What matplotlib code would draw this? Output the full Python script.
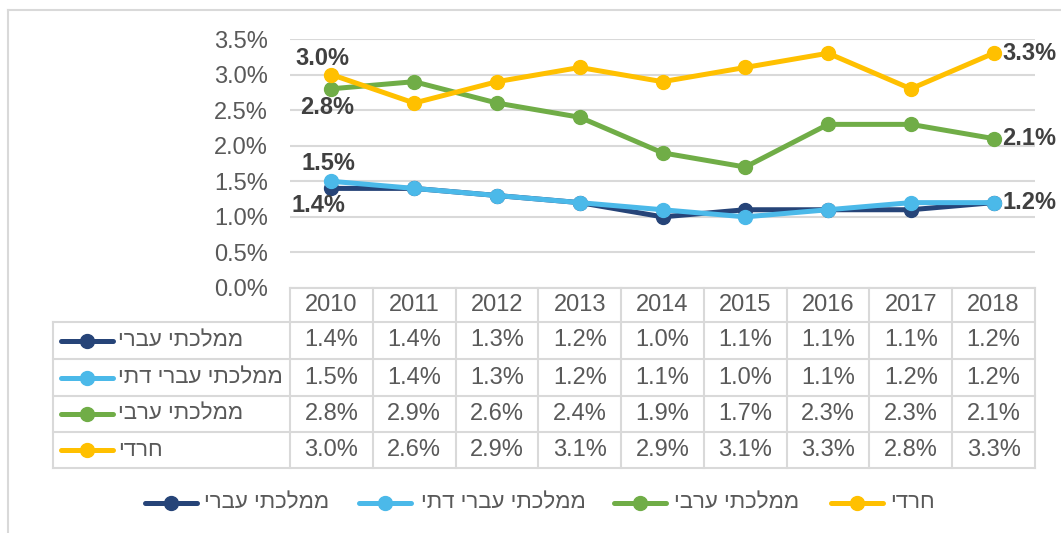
import matplotlib
matplotlib.use("Agg")
import matplotlib.pyplot as plt
from matplotlib.lines import Line2D

plt.rcParams['font.family'] = ['Liberation Sans', 'DejaVu Sans']

years = ["2010", "2011", "2012", "2013", "2014", "2015", "2016", "2017", "2018"]
series_names = ["ממלכתי עברי", "ממלכתי עברי דתי", "ממלכתי ערבי", "חרדי"]
mamlachti_ivri = [1.4, 1.4, 1.3, 1.2, 1.0, 1.1, 1.1, 1.1, 1.2]
mamlachti_dati = [1.5, 1.4, 1.3, 1.2, 1.1, 1.0, 1.1, 1.2, 1.2]
mamlachti_aravi = [2.8, 2.9, 2.6, 2.4, 1.9, 1.7, 2.3, 2.3, 2.1]
haredi = [3.0, 2.6, 2.9, 3.1, 2.9, 3.1, 3.3, 2.8, 3.3]
yticks = [0.0, 0.5, 1.0, 1.5, 2.0, 2.5, 3.0, 3.5]

colors = ["#264478", "#4BB9E9", "#70AD47", "#FFC000"]
series = [mamlachti_ivri, mamlachti_dati, mamlachti_aravi, haredi]

W, H = 1061, 533
fig = plt.figure(figsize=(W / 100, H / 100), dpi=100)

def fx(x):
    return x / W

def fy(y):
    return 1 - y / H

def vis(s):
    return s[::-1]

TXT = "#595959"
GRID = "#D9D9D9"
FS = 17
HFS = 16
LW = 3.6
MS = 10

# outer chart border
fig.add_artist(Line2D([fx(8), fx(8)], [fy(10), fy(533)], color=GRID, lw=1.5))
fig.add_artist(Line2D([fx(8), fx(1061)], [fy(10), fy(10)], color=GRID, lw=1.5))

ax_l, ax_r, ax_t, ax_b = 290, 1035, 39, 288
ax = fig.add_axes([fx(ax_l), fy(ax_b), fx(ax_r - ax_l), (ax_b - ax_t) / H])
ax.set_xlim(-0.5, len(years) - 0.5)
ax.set_ylim(0, 3.5)
ax.set_yticks(yticks)
ax.set_yticklabels([f"{v:.1f}%" for v in yticks], color=TXT, fontsize=FS)
ax.set_xticks([])
ax.grid(axis='y', color=GRID, lw=1.5)
ax.set_axisbelow(True)
for s in ax.spines.values():
    s.set_visible(False)
ax.tick_params(axis='y', length=0, pad=16)

xs = list(range(len(years)))
for vals, c in zip(series, colors):
    ax.plot(xs, vals, color=c, lw=LW, marker='o', markersize=MS, solid_capstyle='round', clip_on=False)

def lab(i, vals, dx, dy, ha='center'):
    ax.annotate(f"{vals[i]:.1f}%", (i, vals[i]), xytext=(dx * 0.72, dy * 0.72),
                textcoords='offset points', ha=ha, va='center', fontsize=FS,
                fontweight='bold', color="#404040")

lab(0, haredi, -9, 16)
lab(0, mamlachti_aravi, -4, -19)
lab(0, mamlachti_dati, -3, 18)
lab(0, mamlachti_ivri, -13, -17)
n = len(years) - 1
lab(n, haredi, 9, 0, ha='left')
lab(n, mamlachti_aravi, 9, 0, ha='left')
lab(n, mamlachti_ivri, 9, 0, ha='left')

# data table
col_w = (ax_r - ax_l) / len(years)
row_tops = [288, 322, 359, 396, 432, 468]
tl_left = 53
lc = dict(color=GRID, lw=1.5)
for j, y in enumerate(row_tops):
    x0 = ax_l if j == 0 else tl_left
    fig.add_artist(Line2D([fx(x0), fx(ax_r)], [fy(y), fy(y)], **lc))
for k in range(len(years) + 1):
    x = ax_l + k * col_w
    fig.add_artist(Line2D([fx(x), fx(x)], [fy(288), fy(468)], **lc))
fig.add_artist(Line2D([fx(tl_left), fx(tl_left)], [fy(322), fy(468)], **lc))

for k, yr in enumerate(years):
    fig.text(fx(ax_l + (k + 0.5) * col_w), fy((288 + 322) / 2), yr, ha='center', va='center',
             fontsize=FS, color=TXT)

for r, (name, vals, c) in enumerate(zip(series_names, series, colors)):
    yc = (row_tops[r + 1] + row_tops[r + 2]) / 2
    fig.add_artist(Line2D([fx(61), fx(113)], [fy(yc), fy(yc)], color=c, lw=LW,
                          solid_capstyle='round'))
    fig.add_artist(Line2D([fx(87)], [fy(yc)], color=c, marker='o', markersize=MS))
    fig.text(fx(118), fy(yc), vis(name), ha='left', va='center', fontsize=HFS, color=TXT)
    for k, v in enumerate(vals):
        fig.text(fx(ax_l + (k + 0.5) * col_w), fy(yc), f"{v:.1f}%", ha='center', va='center',
                 fontsize=FS, color=TXT)

# bottom legend
leg_y = 503
leg_items = [(171, 204), (385, 421), (640, 674), (857, 890)]
for (mx, tx), name, c in zip(leg_items, series_names, colors):
    fig.add_artist(Line2D([fx(mx - 26), fx(mx + 26)], [fy(leg_y), fy(leg_y)], color=c, lw=LW,
                          solid_capstyle='round'))
    fig.add_artist(Line2D([fx(mx)], [fy(leg_y)], color=c, marker='o', markersize=MS))
    fig.text(fx(tx), fy(leg_y), vis(name), ha='left', va='center', fontsize=HFS, color=TXT)

fig.savefig("out.png", dpi=100)
